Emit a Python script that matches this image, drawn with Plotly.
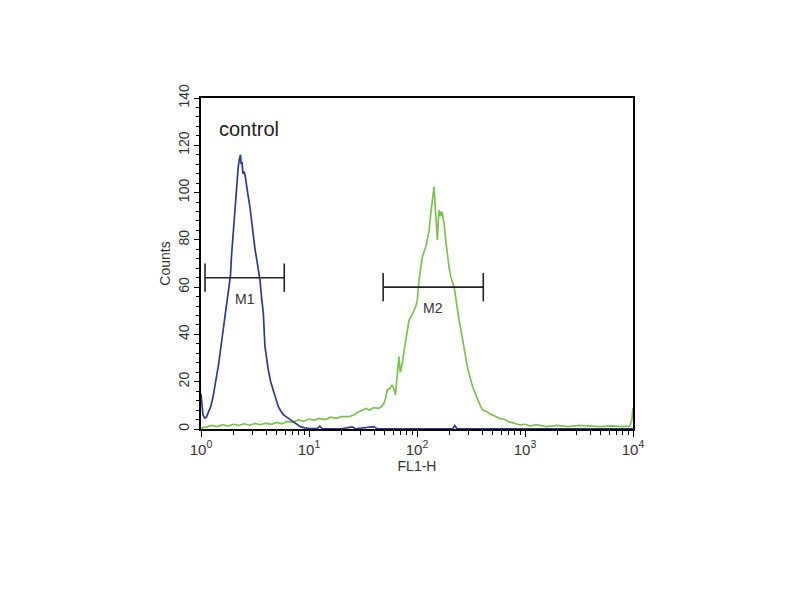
import math
import plotly.graph_objects as go

# ---- data (x given as log10 of FL1-H, y = counts) ----
blue_log_fl1h = [0.0, 0.008, 0.018, 0.034, 0.05, 0.065, 0.09, 0.112, 0.14, 0.165, 0.185, 0.205,
                 0.225, 0.245, 0.267, 0.273, 0.282, 0.293, 0.304, 0.315, 0.325, 0.335, 0.345,
                 0.355, 0.366, 0.372, 0.38, 0.388, 0.395, 0.406, 0.42, 0.435, 0.453, 0.468,
                 0.484, 0.5, 0.515, 0.53, 0.546, 0.562, 0.577, 0.592, 0.607, 0.623, 0.645,
                 0.67, 0.693, 0.716, 0.74, 0.765, 0.794, 0.825, 0.856, 0.88, 0.92, 0.96,
                 1.0, 1.08, 1.1, 1.12, 1.3, 1.4, 1.43, 1.6, 1.63, 2.0, 2.33, 2.35, 2.37,
                 3.0, 4.0]
blue_counts = [15, 10, 6, 4.6, 5, 6.7, 9.5, 13.7, 21, 28, 35, 42,
               50, 57, 63, 65, 73, 80, 87, 95, 102, 108, 111,
               114, 116, 112, 113, 108, 109, 108, 103, 99, 94, 88,
               80, 76, 72, 68, 63, 55, 49, 35, 30, 25, 20,
               16.5, 13, 9.4, 7.5, 6, 5, 4, 3, 2, 1, 0.5,
               0.2, 0.3, 1.2, 0.2, 0.1, 0.9, 0.1, 1.0, 0.1, 0.1, 0.1, 1.5, 0.1,
               0.1, 0.1]

green_log_fl1h = [0.0, 0.05, 0.1, 0.15, 0.2, 0.25, 0.3, 0.35, 0.4, 0.45, 0.5, 0.55, 0.6, 0.65,
                  0.7, 0.75, 0.8, 0.85, 0.9, 0.95, 1.0, 1.05, 1.09, 1.15, 1.2, 1.25, 1.3,
                  1.37, 1.42, 1.46, 1.5, 1.523, 1.56, 1.6, 1.647, 1.67, 1.693, 1.71, 1.724,
                  1.745, 1.77, 1.785, 1.80, 1.815, 1.833, 1.845, 1.864, 1.88, 1.895, 1.91,
                  1.926, 1.95, 1.972, 1.99, 2.003, 2.012, 2.019, 2.035, 2.05, 2.065, 2.081,
                  2.095, 2.112, 2.127, 2.14, 2.149, 2.158, 2.166, 2.174, 2.182, 2.189, 2.197,
                  2.205, 2.213, 2.22, 2.228, 2.236, 2.243, 2.251, 2.265, 2.282, 2.298, 2.313,
                  2.328, 2.344, 2.36, 2.375, 2.39, 2.406, 2.42, 2.437, 2.452, 2.468, 2.49,
                  2.514, 2.54, 2.561, 2.585, 2.607, 2.64, 2.67, 2.72, 2.763, 2.81, 2.856,
                  2.9, 2.949, 3.0, 3.05, 3.1, 3.197, 3.3, 3.4, 3.5, 3.6, 3.7, 3.8, 3.9,
                  3.97, 3.99, 4.0]
green_counts = [0.5, 0.8, 1.5, 1, 1.8, 1.2, 2, 1.5, 2.2, 1.6, 2.4, 1.8, 2.5, 2,
                2.8, 2.2, 3.2, 2.8, 3.8, 3.2, 4.2, 3.8, 4.5, 4, 5, 4.5, 5.2,
                5.2, 6, 7.3, 8, 8.7, 8, 9, 8.7, 9.5, 10.9, 13, 16.5,
                17, 18.6, 17, 14.4, 22, 30.6, 24, 27.8, 33, 37.6, 42,
                46, 48, 50, 52, 54.5, 60, 63, 68, 72.9, 75, 77,
                80, 84, 91, 96, 101, 102.5, 96, 91, 85, 80, 88,
                92.6, 91, 90, 92, 91, 89, 87, 80, 73, 68, 64.4,
                62, 60, 55, 50, 46, 42, 38, 35, 30, 26, 22,
                18, 15, 12.3, 10, 8, 7.5, 6.6, 5.5, 4.5, 4, 3,
                2.5, 1.7, 2, 1.2, 1.8, 1, 1.5, 1, 1.5, 1.2, 1, 1.3, 1,
                1.2, 4, 9]

gate_names = ["M1", "M2"]
gate_low = [1.09, 48.6]
gate_high = [5.9, 411]
gate_level = [64, 60]
gate_cap = 6
gate_label_level = [55, 51]

x_tick_vals = [1, 10, 100, 1000, 10000]
x_tick_text = ["10<sup>0</sup>", "10<sup>1</sup>", "10<sup>2</sup>", "10<sup>3</sup>", "10<sup>4</sup>"]

blue_fl1h = [10 ** v for v in blue_log_fl1h]
green_fl1h = [10 ** v for v in green_log_fl1h]

fig = go.Figure()
fig.add_trace(go.Scatter(x=green_fl1h, y=green_counts, mode="lines",
                         line=dict(color="#7cc24e", width=1.7), showlegend=False))
fig.add_trace(go.Scatter(x=blue_fl1h, y=blue_counts, mode="lines",
                         line=dict(color="#2e3a8e", width=1.7), showlegend=False))

for name, lo, hi, lev, lab in zip(gate_names, gate_low, gate_high, gate_level, gate_label_level):
    fig.add_trace(go.Scatter(x=[lo, hi], y=[lev, lev], mode="lines",
                             line=dict(color="#222222", width=1.6), showlegend=False))
    for xe in (lo, hi):
        fig.add_trace(go.Scatter(x=[xe, xe], y=[lev - gate_cap, lev + gate_cap], mode="lines",
                                 line=dict(color="#222222", width=1.6), showlegend=False))
    # annotations on a log axis take log10 positions
    fig.add_annotation(x=(math.log10(lo) + math.log10(hi)) / 2, y=lab, xref="x", yref="y",
                       text=name, showarrow=False,
                       font=dict(size=14, color="#333333", family="Liberation Sans"))

fig.add_annotation(x=0.036, y=0.905, xref="paper", yref="paper", text="control",
                   showarrow=False, xanchor="left", yanchor="middle",
                   font=dict(size=20, color="#222222", family="Liberation Sans"))

fig.update_layout(
    width=800, height=600,
    margin=dict(l=193, r=175, t=90, b=179),
    paper_bgcolor="white", plot_bgcolor="white",
    font=dict(family="Liberation Sans", color="#333333", size=12),
)
fig.update_xaxes(type="log", range=[0, 4], tickvals=x_tick_vals, ticktext=x_tick_text,
                 showline=True, linecolor="black", linewidth=1.5, mirror=True,
                 ticks="outside", ticklen=6, tickcolor="black", showgrid=False, zeroline=False,
                 minor=dict(ticks="outside", ticklen=4, tickcolor="black", dtick="D1", showgrid=False),
                 tickfont=dict(size=15, color="#333333"),
                 title=dict(text="FL1-H", font=dict(size=14, color="#333333"), standoff=0))
fig.update_yaxes(range=[0, 140], dtick=20, tickangle=-90,
                 showline=True, linecolor="black", linewidth=1.5, mirror=True,
                 ticks="outside", ticklen=5, tickcolor="black", showgrid=False, zeroline=False,
                 minor=dict(ticks="outside", ticklen=3, tickcolor="black", dtick=4, showgrid=False),
                 tickfont=dict(size=14, color="#333333"),
                 title=dict(text="Counts", font=dict(size=14, color="#333333"), standoff=2))

fig.write_html("out.html")
